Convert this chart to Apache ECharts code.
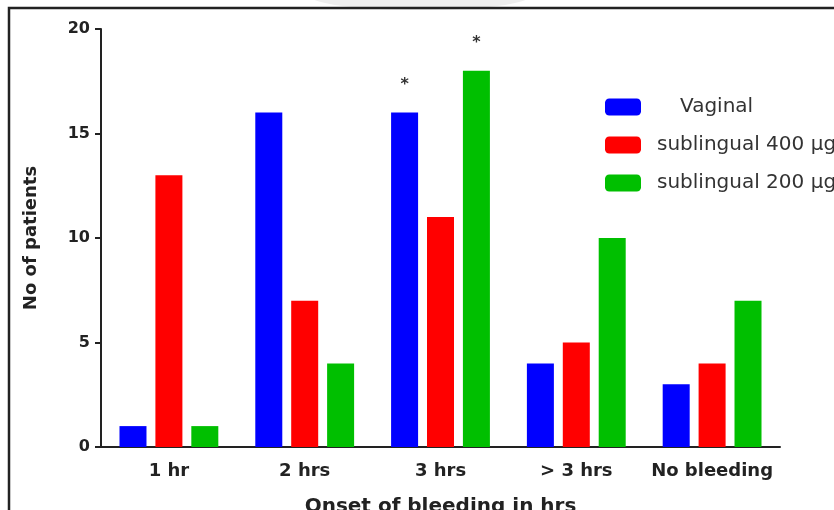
<!DOCTYPE html>
<html>
<head>
<meta charset="utf-8">
<script src="https://cdn.jsdelivr.net/npm/echarts@6/dist/echarts.min.js"></script>
<style>
  html, body { margin: 0; padding: 0; background: #fff; }
  #main { width: 834px; height: 510px; }
</style>
</head>
<body>
<div id="main"></div>
<script>
//categorias y valores
var categories = ['1 hr', '2 hrs', '3 hrs', '> 3 hrs', 'No bleeding'];
var vaginal = [1, 16, 16, 4, 3];
var sub400 = [13, 7, 11, 5, 4];
var sub200 = [1, 4, 18, 10, 7];
//barras con asterisco (indice de categoria)
var starVaginal = [2];
var starSub200 = [2];
var yTicks = [0, 5, 10, 15, 20];

var font = 'DejaVu Sans';
var textColor = '#222';

//arma datos con etiqueta "*" donde corresponde
function with_stars(values, stars){
    return values.map(function(v, i){
        if (stars.indexOf(i) >= 0){
            return {value: v, label: {show: true, position: 'top', distance: 20,
                formatter: '*', fontFamily: font, fontSize: 16, fontWeight: 'bold', color: '#333'}};
        }
        return v;
    });
}

var chartDom = document.getElementById('main');
var myChart = echarts.init(chartDom);
var option = {
    animation: false,
    backgroundColor: '#fff',
    textStyle: {fontFamily: font},
    grid: {left: 101, right: 54, top: 29, bottom: 63, containLabel: false, outerBoundsMode: 'none'},
    legend: {
        orient: 'vertical',
        left: 600,
        top: 92,
        itemWidth: 36,
        itemHeight: 17,
        itemGap: 18,
        icon: 'roundRect',
        textStyle: {fontFamily: font, fontSize: 20, color: '#333', lineHeight: 20,
            rich: {
                v: {fontFamily: font, fontSize: 20, color: '#333', padding: [0, 0, 0, 34]},
                s: {fontFamily: font, fontSize: 20, color: '#333', padding: [0, 0, 0, 11]}
            }
        },
        formatter: function(name){
            return name === 'Vaginal' ? '{v|' + name + '}' : '{s|' + name + '}';
        },
        data: ['Vaginal', 'sublingual 400 µg', 'sublingual 200 µg']
    },
    xAxis: {
        type: 'category',
        data: categories,
        name: 'Onset of bleeding in hrs',
        nameLocation: 'middle',
        nameGap: 50,
        nameTextStyle: {fontFamily: font, fontSize: 20, fontWeight: 'bold', color: textColor},
        axisLine: {lineStyle: {color: '#222', width: 2}},
        axisTick: {alignWithLabel: true, length: 8, lineStyle: {color: '#222', width: 2}},
        axisLabel: {interval: 0, fontFamily: font, fontSize: 18, fontWeight: 'bold', color: textColor, margin: 15},
        splitLine: {show: false}
    },
    yAxis: {
        type: 'value',
        min: yTicks[0],
        max: yTicks[yTicks.length - 1],
        interval: 5,
        name: 'No of patients',
        nameLocation: 'middle',
        nameGap: 61,
        nameTextStyle: {fontFamily: font, fontSize: 18, fontWeight: 'bold', color: textColor},
        axisLine: {show: true, lineStyle: {color: '#222', width: 2}},
        axisTick: {show: true, length: 6, lineStyle: {color: '#222', width: 2}},
        axisLabel: {fontFamily: font, fontSize: 16, fontWeight: 'bold', color: textColor, margin: 11},
        splitLine: {show: false}
    },
    series: [
        {name: 'Vaginal', type: 'bar', barWidth: 27, barGap: '33%',
         itemStyle: {color: '#0000FF'}, data: with_stars(vaginal, starVaginal)},
        {name: 'sublingual 400 µg', type: 'bar', barWidth: 27, barGap: '33%',
         itemStyle: {color: '#FF0000'}, data: sub400},
        {name: 'sublingual 200 µg', type: 'bar', barWidth: 27, barGap: '33%',
         itemStyle: {color: '#00BF00'}, data: with_stars(sub200, starSub200)}
    ],
    //marco de la figura y sombra arriba
    graphic: [
        {type: 'ellipse', shape: {cx: 420, cy: -4, rx: 110, ry: 14},
         style: {fill: '#efefef'}, z: -1, silent: true},
        {type: 'rect', shape: {x: 9, y: 8, width: 900, height: 600},
         style: {fill: 'none', stroke: '#222', lineWidth: 2.5}, silent: true}
    ]
};

option && myChart.setOption(option);
</script>
</body>
</html>
